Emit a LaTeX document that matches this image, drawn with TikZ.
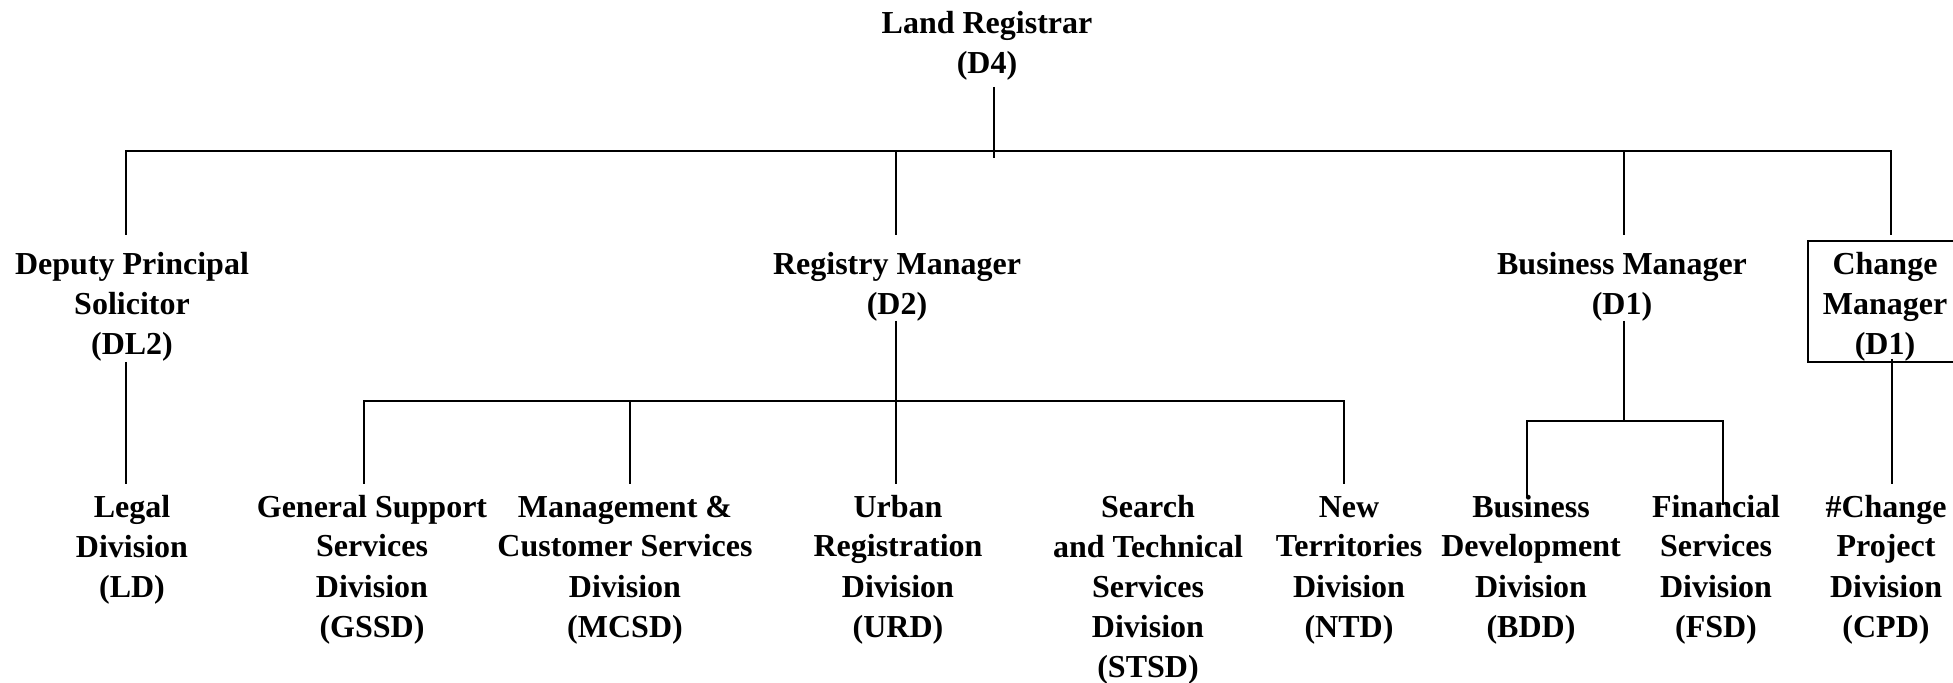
\documentclass[tikz,border=0pt]{standalone}
\usepackage{fontspec}
\setmainfont{Liberation Serif}

\tikzset{
  post/.style={align=center, anchor=base, inner sep=0pt,
    font=\bfseries\fontsize{16}{20}\selectfont},
  link/.style={line width=1pt}
}

\begin{document}
\begin{tikzpicture}[x=0.5pt,y=-0.5pt]
	
	% 画布范围
	\clip (0,0) rectangle (1953,683);
	
	% 顶层 (base = 末行基线)
	\node[post] (lr) at (987,74) {Land Registrar\\(D4)};
	
	% 第二层
	\node[post] (dps) at (132,355) {Deputy Principal\\Solicitor\\(DL2)};
	\node[post] (rm) at (897,315) {Registry Manager\\(D2)};
	\node[post] (bm) at (1622,315) {Business Manager\\(D1)};
	\node[post] (cm) at (1885,355) {Change\\Manager\\(D1)};
	
	% 第三层
	\node[post] (ld) at (132,597) {Legal\\Division\\(LD)};
	\node[post] (gssd) at (372,637) {General Support\\Services\\Division\\(GSSD)};
	\node[post] (mcsd) at (625,637) {Management \&\\Customer Services\\Division\\(MCSD)};
	\node[post] (urd) at (898,637) {Urban\\Registration\\Division\\(URD)};
	\node[post] (stsd) at (1148,677) {Search\\and Technical\\Services\\Division\\(STSD)};
	\node[post] (ntd) at (1349,637) {New\\Territories\\Division\\(NTD)};
	\node[post] (bdd) at (1531,637) {Business\\Development\\Division\\(BDD)};
	\node[post] (fsd) at (1716,637) {Financial\\Services\\Division\\(FSD)};
	\node[post] (cpd) at (1886,637) {\#Change\\Project\\Division\\(CPD)};
	
	% 连接点
	\coordinate (lrdn) at (994,87);
	\coordinate (lrend) at (994,158);
	\coordinate (bus) at (994,151);
	\coordinate (dpsup) at (126,235);
	\coordinate (rmup) at (896,235);
	\coordinate (bmup) at (1624,235);
	\coordinate (cmup) at (1891,235);
	\coordinate (dpsdn) at (126,362);
	\coordinate (ldup) at (126,484);
	\coordinate (rmdn) at (896,321);
	\coordinate (urdup) at (896,484);
	\coordinate (sub) at (896,401);
	\coordinate (gssdup) at (364,484);
	\coordinate (mcsdup) at (630,484);
	\coordinate (ntdup) at (1344,484);
	\coordinate (bmdn) at (1624,321);
	\coordinate (fsbus) at (1624,421);
	\coordinate (bddup) at (1527,497);
	\coordinate (fsdup) at (1723,505);
	\coordinate (cmdn) at (1892,359);
	\coordinate (cpdup) at (1892,484);
	
	% 顶层连线
	\draw[link] (lrdn) -- (lrend);
	\draw[link] (dpsup) -- (dpsup |- bus) -- (cmup |- bus) -- (cmup);
	\draw[link] (rmup) -- (rmup |- bus);
	\draw[link] (bmup) -- (bmup |- bus);
	
	% 第二层连线
	\draw[link] (dpsdn) -- (ldup);
	\draw[link] (rmdn) -- (urdup);
	\draw[link] (gssdup) -- (gssdup |- sub) -- (ntdup |- sub) -- (ntdup);
	\draw[link] (mcsdup) -- (mcsdup |- sub);
	\draw[link] (bmdn) -- (fsbus);
	\draw[link] (bddup) -- (bddup |- fsbus) -- (fsdup |- fsbus) -- (fsdup);
	\draw[link] (cmdn) -- (cpdup);
	
	% 方框
	\draw[link] ([shift={(-77,-114)}]cm.base) rectangle ([shift={(77,7)}]cm.base);
	
\end{tikzpicture}
\end{document}
